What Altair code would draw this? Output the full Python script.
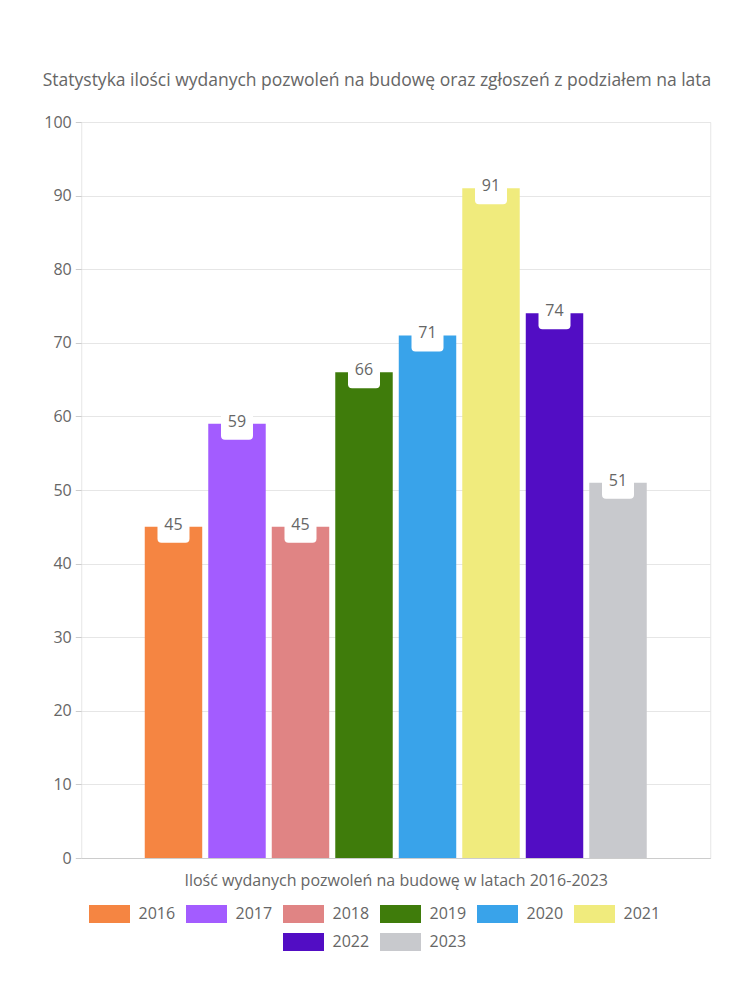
import altair as alt
import pandas as pd

years = ["2016", "2017", "2018", "2019", "2020", "2021", "2022", "2023"]
values = [45, 59, 45, 66, 71, 91, 74, 51]
colors = ["#F58542", "#A35CFF", "#E08484", "#3F7C0B", "#39A3EA", "#F0EB7D", "#520DC4", "#C8C9CD"]
y_ticks = [0, 10, 20, 30, 40, 50, 60, 70, 80, 90, 100]
legend_row1 = years[:6]
legend_row2 = years[6:]
title_text = "Statystyka ilości wydanych pozwoleń na budowę oraz zgłoszeń z podziałem na lata"
x_title = "Ilość wydanych pozwoleń na budowę w latach 2016-2023"

FONT = "Open Sans"
TXT = "#666666"
BOX = "M-1,-1L1,-1L1,0.75Q1,1 0.75,1L-0.75,1Q-1,1 -1,0.75Z"

df = pd.DataFrame({"year": years, "value": values})
color_scale = alt.Scale(domain=years, range=colors)

x_enc = alt.X(
    "year:N",
    sort=years,
    scale=alt.Scale(domain=years, paddingInner=0.095, paddingOuter=1),
    axis=alt.Axis(labels=False, ticks=False, title=x_title, titlePadding=14,
                  titleFontSize=16, titleFontWeight="normal", titleColor=TXT,
                  titleFont=FONT, domainColor="#cccccc", grid=False),
)
y_enc = alt.Y(
    "value:Q",
    scale=alt.Scale(domain=[0, 100]),
    axis=alt.Axis(values=y_ticks, title=None, grid=True, gridColor="#e6e6e6",
                  domain=False, tickColor="#cccccc", tickSize=6, labelPadding=4,
                  labelFontSize=16, labelColor=TXT, labelFont=FONT),
)

bars = alt.Chart(df).mark_bar().encode(
    x=x_enc, y=y_enc,
    color=alt.Color("year:N", scale=color_scale, legend=None),
)
boxes = alt.Chart(df).mark_point(
    shape=BOX, filled=True, fill="white", opacity=1, size=1024, strokeWidth=0
).encode(x=alt.X("year:N", sort=years), y=alt.Y("value:Q"))
labels = alt.Chart(df).mark_text(
    font=FONT, fontSize=16, color=TXT, baseline="middle", dy=-2
).encode(x=alt.X("year:N", sort=years), y=alt.Y("value:Q"), text="value:Q")

main = alt.layer(bars, boxes, labels).properties(
    width=629, height=736, view=alt.ViewBackground(stroke="#e6e6e6")
)


def legend_row(yrs):
    d = pd.DataFrame({"year": yrs})
    xs = alt.X("year:N", sort=yrs,
               scale=alt.Scale(domain=yrs, paddingInner=0, paddingOuter=0), axis=None)
    sw = alt.Chart(d).mark_bar(width=41, xOffset=-44).encode(
        x=xs, color=alt.Color("year:N", scale=color_scale, legend=None)
    )
    lb = alt.Chart(d).mark_text(
        align="left", baseline="middle", dx=-15, font=FONT, fontSize=16, color=TXT
    ).encode(x=xs, text="year:N")
    return alt.layer(sw, lb).properties(width=97 * len(yrs), height=18)


legend = alt.vconcat(legend_row(legend_row1), legend_row(legend_row2), spacing=10, center=True)

chart = alt.vconcat(main, legend, spacing=16, center=True).properties(
    title=alt.Title(title_text, anchor="middle", fontSize=17.5, font=FONT, color=TXT,
                    fontWeight="normal", offset=24),
    padding={"left": 42, "top": 72, "right": 10, "bottom": 10},
    background="white",
).configure_view(stroke=None)

chart.save("out.html", embed_options={"renderer": "svg", "actions": False})
